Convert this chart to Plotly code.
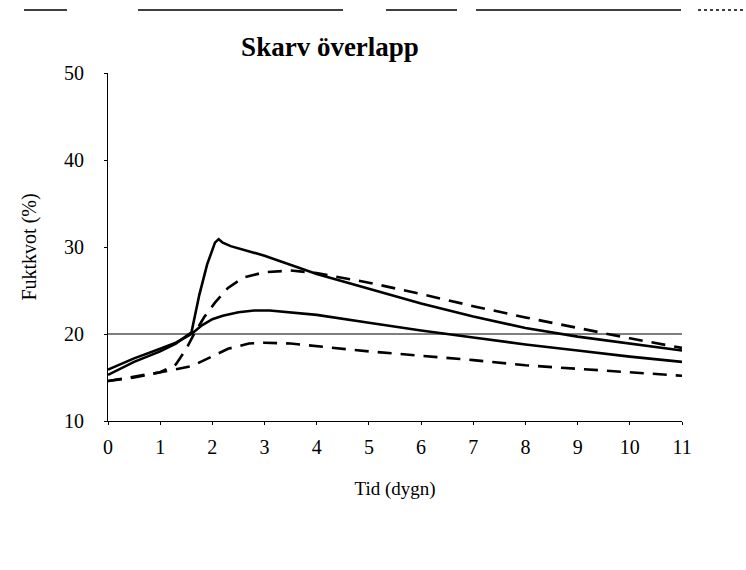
import plotly.graph_objects as go

# ---- data ----
x_sol_hi = [0, 0.5, 1, 1.3, 1.6, 1.75, 1.9, 2.05, 2.12, 2.2, 2.35, 3, 4, 5, 6, 7, 8, 9, 10, 11]
y_sol_hi = [15.3, 16.8, 18.0, 18.9, 20.2, 24.5, 28.0, 30.5, 30.9, 30.5, 30.1, 29.0, 26.9, 25.2, 23.5, 22.0, 20.7, 19.7, 18.9, 18.1]

x_sol_lo = [0, 0.5, 1, 1.3, 1.6, 1.8, 2, 2.2, 2.5, 2.8, 3.1, 3.5, 4, 5, 6, 7, 8, 9, 10, 11]
y_sol_lo = [15.9, 17.2, 18.3, 19.0, 20.0, 21.0, 21.7, 22.1, 22.5, 22.7, 22.7, 22.5, 22.2, 21.3, 20.4, 19.6, 18.8, 18.1, 17.4, 16.8]

x_dash_hi = [0, 0.5, 1, 1.3, 1.5, 1.65, 1.85, 2.05, 2.3, 2.6, 3, 3.5, 4, 5, 6, 7, 8, 9, 10, 11]
y_dash_hi = [14.6, 15.0, 15.6, 16.5, 18.3, 20.0, 22.0, 23.6, 25.3, 26.5, 27.1, 27.3, 27.0, 25.9, 24.6, 23.2, 21.9, 20.7, 19.5, 18.4]

x_dash_lo = [0, 0.5, 1, 1.6, 2, 2.3, 2.7, 3, 3.5, 4, 5, 6, 7, 8, 9, 10, 11]
y_dash_lo = [14.6, 15.1, 15.6, 16.3, 17.4, 18.3, 18.9, 19.0, 18.9, 18.6, 18.0, 17.5, 17.0, 16.4, 16.0, 15.6, 15.2]

x_ticks = list(range(0, 12))
y_ticks = [10, 20, 30, 40, 50]

FONT = "Liberation Serif"

fig = go.Figure()
for xs, ys, dash in [
    (x_dash_lo, y_dash_lo, "14px,9px"),
    (x_dash_hi, y_dash_hi, "14px,9px"),
    (x_sol_lo, y_sol_lo, "solid"),
    (x_sol_hi, y_sol_hi, "solid"),
]:
    fig.add_trace(go.Scatter(x=xs, y=ys, mode="lines",
                             line=dict(color="black", width=2.6, dash=dash),
                             showlegend=False, hoverinfo="skip"))

# reference line at 20 %
fig.add_shape(type="line", xref="x", yref="y", x0=0, x1=11, y0=20, y1=20,
              line=dict(color="black", width=1.2), layer="below")

# scan artefact line at the very top
for a, b, d in [(24, 67, "solid"), (138, 252, "solid"), (252, 343, "solid"),
                (386, 457, "solid"), (476, 681, "solid"), (698, 746, "3px,3px")]:
    fig.add_shape(type="line", xref="paper", yref="paper",
                  x0=(a - 108) / 574, x1=(b - 108) / 574,
                  y0=(421 - 10) / 348, y1=(421 - 10) / 348,
                  line=dict(color="black", width=1.5, dash=d))

fig.update_layout(
    width=746, height=570,
    margin=dict(l=108, r=64, t=73, b=149),
    paper_bgcolor="white", plot_bgcolor="white",
    font=dict(family=FONT, color="black", size=20),
    title=dict(text="<b>Skarv överlapp</b>", x=330 / 746, xanchor="center",
               y=1 - 47 / 570, yanchor="middle",
               font=dict(family=FONT, size=27, color="black")),
    xaxis=dict(range=[0, 11], tickvals=x_ticks, showgrid=False, zeroline=False,
               showline=True, linecolor="black", linewidth=1,
               ticks="outside", ticklen=3, tickcolor="black",
               ticklabelstandoff=5,
               title=dict(text="Tid (dygn)", standoff=24, font=dict(size=19))),
    yaxis=dict(range=[10, 50], tickvals=y_ticks, showgrid=False, zeroline=False,
               showline=True, linecolor="black", linewidth=1,
               ticks="outside", ticklen=3, tickcolor="black",
               ticklabelstandoff=16,
               title=dict(text="Fuktkvot (%)", standoff=22, font=dict(size=20))),
)

fig.write_html("out.html")
